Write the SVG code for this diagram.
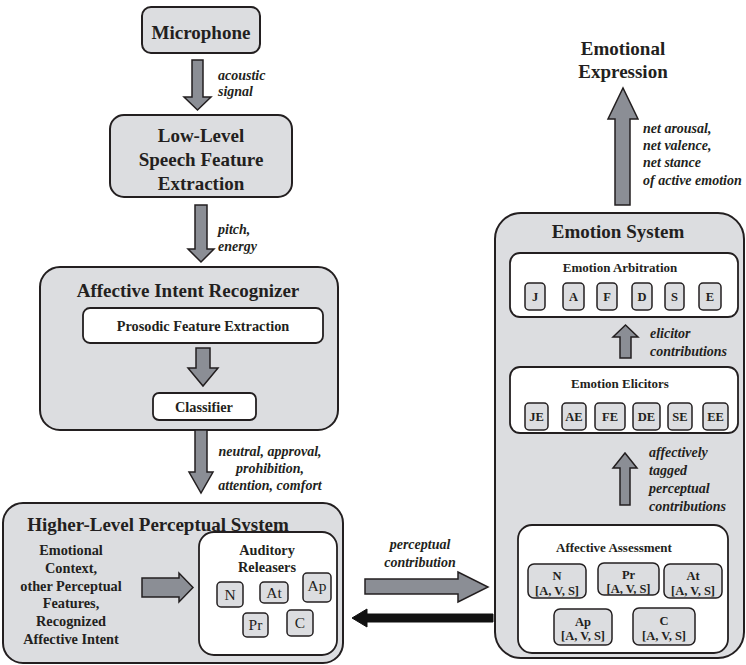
<svg xmlns="http://www.w3.org/2000/svg" width="746" height="665" viewBox="0 0 746 665" font-family="'Liberation Serif', 'DejaVu Serif', serif">
  <style>
    .box { fill: #dcdde0; stroke: #231f20; stroke-width: 2; }
    .inner { fill: #ffffff; stroke: #231f20; stroke-width: 1.8; }
    .chip { fill: #dcdde0; stroke: #231f20; stroke-width: 1.5; }
    .arrow { fill: #8b8e95; stroke: #231f20; stroke-width: 1.5; stroke-linejoin: miter; }
    .arrow-dark { fill: #111111; stroke: #111111; stroke-width: 1; }
    .t19, .t14, .t13, .t12, .chipr, .lbl, .lblc { font-family: 'Liberation Serif', 'DejaVu Serif', serif; fill: #231f20; }
    .t19 { font-size: 19px; font-weight: bold; text-anchor: middle; }
    .t14 { font-size: 14.3px; font-weight: bold; text-anchor: middle; }
    .t13 { font-size: 13px; font-weight: bold; text-anchor: middle; }
    .t12 { font-size: 12.5px; font-weight: bold; text-anchor: middle; }
    .chipr { font-size: 15.5px; text-anchor: middle; }
    .lbl { font-size: 14px; font-weight: bold; font-style: italic; }
    .lblc { font-size: 14px; font-weight: bold; font-style: italic; text-anchor: middle; }
  </style>

  <!-- Microphone -->
  <g id="microphone">
    <rect class="box" x="142" y="7" width="118" height="46" rx="9"/>
    <text class="t19" x="201" y="39">Microphone</text>
  </g>

  <!-- Low-level feature extraction -->
  <g id="low-level">
    <rect class="box" x="110" y="115" width="182" height="82" rx="14"/>
    <text class="t19" x="201" y="142">Low-Level</text>
    <text class="t19" x="201" y="166">Speech Feature</text>
    <text class="t19" x="201" y="190">Extraction</text>
  </g>

  <!-- Affective intent recognizer -->
  <g id="affective-intent-recognizer">
    <rect class="box" x="40" y="267" width="298" height="163" rx="20"/>
    <text class="t19" x="188" y="297">Affective Intent Recognizer</text>
    <g id="prosodic-feature-extraction">
      <rect class="inner" x="83" y="308" width="240" height="35" rx="7"/>
      <text class="t14" x="203" y="331">Prosodic Feature Extraction</text>
    </g>
    <g id="classifier">
      <rect class="inner" x="153" y="393" width="103" height="27" rx="6"/>
      <text class="t14" x="204" y="412">Classifier</text>
    </g>
  </g>

  <!-- Higher-level perceptual system -->
  <g id="higher-level-perceptual-system">
    <rect class="box" x="3" y="503" width="340" height="160" rx="20"/>
    <text class="t19" x="158" y="531">Higher-Level Perceptual System</text>
    <text class="t14" x="71" y="555">Emotional</text>
    <text class="t14" x="71" y="573">Context,</text>
    <text class="t14" x="71" y="591">other Perceptual</text>
    <text class="t14" x="71" y="608">Features,</text>
    <text class="t14" x="71" y="626">Recognized</text>
    <text class="t14" x="71" y="644">Affective Intent</text>
    <g id="auditory-releasers">
      <rect class="inner" x="199" y="532" width="138" height="123" rx="15"/>
      <text class="t14" x="267" y="555">Auditory</text>
      <text class="t14" x="267" y="572">Releasers</text>
      <rect class="chip" x="217" y="582" width="26" height="25" rx="4"/>
      <text class="chipr" x="230" y="600">N</text>
      <rect class="chip" x="260" y="582" width="28" height="21" rx="4"/>
      <text class="chipr" x="274" y="598">At</text>
      <rect class="chip" x="303" y="573" width="28" height="29" rx="4"/>
      <text class="chipr" x="317" y="591">Ap</text>
      <rect class="chip" x="243" y="613" width="25" height="24" rx="4"/>
      <text class="chipr" x="255.5" y="630">Pr</text>
      <rect class="chip" x="287" y="610" width="26" height="26" rx="4"/>
      <text class="chipr" x="300" y="628">C</text>
    </g>
  </g>

  <!-- Emotional expression output -->
  <g id="emotional-expression">
    <text class="t19" x="623" y="55">Emotional</text>
    <text class="t19" x="623" y="78">Expression</text>
  </g>

  <!-- Emotion system -->
  <g id="emotion-system">
    <rect class="box" x="495" y="213" width="249" height="445" rx="26"/>
    <text class="t19" x="618" y="238">Emotion System</text>

    <g id="emotion-arbitration">
      <rect class="inner" x="510" y="253" width="228" height="64" rx="10"/>
      <text class="t13" x="620" y="272">Emotion Arbitration</text>
      <rect class="chip" x="525" y="283" width="20" height="27" rx="4"/>
      <text class="t12" x="535" y="301">J</text>
      <rect class="chip" x="563" y="283" width="21" height="27" rx="4"/>
      <text class="t12" x="573.5" y="301">A</text>
      <rect class="chip" x="597" y="283" width="20" height="27" rx="4"/>
      <text class="t12" x="607" y="301">F</text>
      <rect class="chip" x="632" y="283" width="20" height="27" rx="4"/>
      <text class="t12" x="642" y="301">D</text>
      <rect class="chip" x="665" y="283" width="19" height="27" rx="4"/>
      <text class="t12" x="674.5" y="301">S</text>
      <rect class="chip" x="699" y="283" width="22" height="27" rx="4"/>
      <text class="t12" x="710" y="301">E</text>
    </g>

    <g id="emotion-elicitors">
      <rect class="inner" x="510" y="367" width="228" height="66" rx="10"/>
      <text class="t13" x="620" y="388">Emotion Elicitors</text>
      <rect class="chip" x="525" y="403" width="23" height="27" rx="4"/>
      <text class="t12" x="536.5" y="421">JE</text>
      <rect class="chip" x="562" y="403" width="24" height="27" rx="4"/>
      <text class="t12" x="574" y="421">AE</text>
      <rect class="chip" x="595" y="403" width="30" height="27" rx="4"/>
      <text class="t12" x="610" y="421">FE</text>
      <rect class="chip" x="633" y="403" width="27" height="27" rx="4"/>
      <text class="t12" x="646.5" y="421">DE</text>
      <rect class="chip" x="668" y="403" width="24" height="27" rx="4"/>
      <text class="t12" x="680" y="421">SE</text>
      <rect class="chip" x="703" y="403" width="25" height="27" rx="4"/>
      <text class="t12" x="715.5" y="421">EE</text>
    </g>

    <g id="affective-assessment">
      <rect class="inner" x="518" y="525" width="210" height="128" rx="14"/>
      <text class="t13" x="614" y="552">Affective Assessment</text>
      <rect class="chip" x="528" y="564" width="58" height="34" rx="6"/>
      <text class="t12" x="557" y="580">N</text>
      <text class="t12" x="557" y="595">[A, V, S]</text>
      <rect class="chip" x="598" y="563" width="61" height="32" rx="6"/>
      <text class="t12" x="628.5" y="579">Pr</text>
      <text class="t12" x="628.5" y="593">[A, V, S]</text>
      <rect class="chip" x="664" y="564" width="58" height="34" rx="6"/>
      <text class="t12" x="693" y="580">At</text>
      <text class="t12" x="693" y="595">[A, V, S]</text>
      <rect class="chip" x="554" y="609" width="58" height="36" rx="6"/>
      <text class="t12" x="583" y="626">Ap</text>
      <text class="t12" x="583" y="640">[A, V, S]</text>
      <rect class="chip" x="633" y="608" width="62" height="37" rx="6"/>
      <text class="t12" x="664" y="625">C</text>
      <text class="t12" x="664" y="640">[A, V, S]</text>
    </g>
  </g>

  <!-- Connectors -->
  <g id="connectors">
    <!-- microphone to low-level -->
    <path class="arrow" d="M192,60 H203 V97 H211 L197.5,110 L184,97 H192 Z"/>
    <text class="lbl" x="218" y="80">acoustic</text>
    <text class="lbl" x="218" y="96">signal</text>

    <!-- low-level to recognizer -->
    <path class="arrow" d="M195,205 H207 V249 H214 L201,262 L188,249 H195 Z"/>
    <text class="lbl" x="218" y="234">pitch,</text>
    <text class="lbl" x="218" y="251">energy</text>

    <!-- prosodic to classifier -->
    <path class="arrow" d="M196,348 H210 V368 H218 L203,386 L188,368 H196 Z"/>

    <!-- recognizer to higher-level system -->
    <path class="arrow" d="M195,430 H207 V472 H213 L201,493 L189,472 H195 Z"/>
    <text class="lblc" x="270" y="456">neutral, approval,</text>
    <text class="lblc" x="270" y="473">prohibition,</text>
    <text class="lblc" x="270" y="490">attention, comfort</text>

    <!-- context into auditory releasers -->
    <path class="arrow" d="M142,578 H179 V573 L193,587.5 L179,602 V597 H142 Z"/>

    <!-- perceptual contribution to emotion system -->
    <path class="arrow" d="M365,579 H458 V572 L488,587 L458,602 V594 H365 Z"/>
    <text class="lblc" x="420" y="549">perceptual</text>
    <text class="lblc" x="420" y="567">contribution</text>

    <!-- feedback to higher-level system -->
    <path class="arrow-dark" d="M493,614 H367 V609 L352,618 L367,627 V622 H493 Z"/>

    <!-- assessment to elicitors -->
    <path class="arrow" d="M620,505 V468 H613 L625,453 L637,468 H630 V505 Z"/>
    <text class="lbl" x="649" y="457">affectively</text>
    <text class="lbl" x="649" y="475">tagged</text>
    <text class="lbl" x="649" y="493">perceptual</text>
    <text class="lbl" x="649" y="511">contributions</text>

    <!-- elicitors to arbitration -->
    <path class="arrow" d="M620,358 V337 H613 L625.5,325 L638,337 H631 V358 Z"/>
    <text class="lbl" x="650" y="338">elicitor</text>
    <text class="lbl" x="650" y="356">contributions</text>

    <!-- emotion system to expression -->
    <path class="arrow" d="M615,205 V119 H608 L623,88 L638,119 H630 V205 Z"/>
    <text class="lbl" x="643" y="133">net arousal,</text>
    <text class="lbl" x="643" y="150">net valence,</text>
    <text class="lbl" x="643" y="167">net stance</text>
    <text class="lbl" x="643" y="185">of active emotion</text>
  </g>
</svg>
